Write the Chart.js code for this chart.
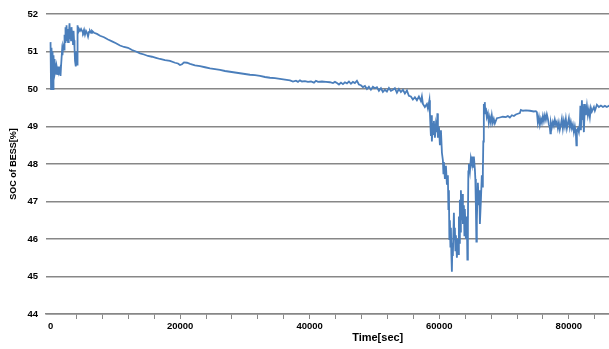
<!DOCTYPE html>
<html>
<head>
<meta charset="utf-8">
<script src="https://cdn.jsdelivr.net/npm/chart.js@4.4.0/dist/chart.umd.min.js"></script>
<style>
  html, body { margin: 0; padding: 0; background: #fff; }
  canvas { display: block; }
</style>
</head>
<body>
<canvas id="soc" width="609" height="349"></canvas>
<script>
// one day of BESS state of charge, sampled time [s] and SOC [%]
const timeSec = [
  0, 80, 150, 230, 310, 390, 460, 540, 620, 690,
  850, 930, 1000, 1160, 1230, 1310, 1470, 1540, 1620, 1770,
  1850, 1930, 2080, 2160, 2240, 2310, 2390, 2470, 2550, 2620,
  2700, 2780, 2850, 2930, 3010, 3090, 3160, 3240, 3320, 3390,
  3470, 3550, 3630, 3700, 3780, 3860, 3930, 4010, 4090, 4170,
  4240, 4400, 4550, 4710, 4860, 5010, 5170, 5320, 5480, 5630,
  5790, 5940, 6090, 6250, 6400, 6710, 7170, 7640, 8250, 8870,
  9490, 10100, 10720, 11340, 11960, 12580, 13190, 13810, 14430, 15040,
  15660, 16280, 16900, 17670, 18440, 19210, 19670, 19980, 20290, 20600,
  21070, 21530, 22300, 23070, 23840, 24620, 25390, 26160, 26930, 27700,
  28470, 29240, 30010, 30780, 31560, 32330, 33100, 33870, 34640, 35410,
  36180, 36960, 37420, 37880, 38190, 38500, 38810, 39270, 39730, 40200,
  40660, 40970, 41280, 41890, 42510, 43130, 43590, 43900, 44210, 44520,
  44830, 45130, 45440, 45750, 46060, 46370, 46680, 46980, 47290, 47600,
  47910, 48220, 48530, 48840, 49140, 49450, 49760, 50070, 50380, 50690,
  51000, 51300, 51610, 51920, 52230, 52540, 52850, 53150, 53460, 53770,
  54080, 54390, 54700, 55010, 55310, 55620, 55930, 56240, 56550, 56860,
  57170, 57320, 57480, 57780, 58090, 58250, 58400, 58480, 58560, 58710,
  58790, 58860, 59020, 59100, 59170, 59330, 59480, 59640, 59710, 59790,
  59950, 60100, 60260, 60410, 60560, 60640, 60720, 60870, 61030, 61180,
  61330, 61410, 61490, 61560, 61640, 61720, 61800, 61870, 61950, 62030,
  62100, 62260, 62330, 62410, 62490, 62570, 62720, 62870, 62950, 63030,
  63110, 63180, 63260, 63340, 63490, 63570, 63650, 63800, 63880, 63950,
  64110, 64260, 64340, 64420, 64490, 64570, 64730, 64880, 65040, 65110,
  65190, 65340, 65500, 65570, 65650, 65730, 65800, 65960, 66110, 66190,
  66270, 66420, 66570, 66650, 66730, 66800, 66880, 66960, 67030, 67110,
  67190, 67340, 67500, 67650, 67800, 67960, 68110, 68270, 68420, 68580,
  68890, 69350, 69810, 70280, 70590, 70900, 71210, 71520, 71820, 72130,
  72440, 72600, 72900, 73370, 73990, 74600, 74910, 75070, 75220, 75380,
  75530, 75690, 75840, 76000, 76150, 76300, 76460, 76610, 76770, 76920,
  77080, 77150, 77230, 77380, 77540, 77690, 77840, 78000, 78150, 78310,
  78460, 78610, 78770, 78920, 79080, 79230, 79390, 79540, 79700, 79850,
  80010, 80160, 80310, 80470, 80620, 80780, 80930, 81090, 81170, 81240,
  81400, 81550, 81710, 81780, 81860, 82020, 82090, 82170, 82320, 82480,
  82630, 82790, 82940, 83090, 83250, 83400, 83560, 83870, 84020, 84180,
  84330, 84640, 84950, 85260, 85570, 85870, 86180, 86340
];

const socValues = [
  51.25, 50.0, 51.1, 50.5, 51.0, 50.0, 50.9, 50.4, 50.8, 50.45,
  50.6, 50.38, 50.55, 50.4, 50.6, 50.45, 50.55, 50.35, 50.6, 51.0,
  50.9, 51.15, 51.05, 51.45, 51.25, 51.65, 51.3, 51.7, 51.35, 51.6,
  51.25, 51.55, 51.4, 51.75, 51.35, 51.6, 51.3, 51.65, 51.4, 51.55,
  51.2, 51.55, 51.3, 51.1, 50.75, 50.95, 50.6, 51.0, 50.65, 51.7,
  51.5, 51.6, 51.55, 51.6, 51.55, 51.5, 51.58, 51.45, 51.55, 51.5,
  51.4, 51.52, 51.55, 51.5, 51.55, 51.5, 51.47, 51.42, 51.38, 51.32,
  51.27, 51.22, 51.16, 51.12, 51.1, 51.04, 51.0, 50.95, 50.92, 50.88,
  50.86, 50.83, 50.8, 50.77, 50.75, 50.7, 50.68, 50.64, 50.66, 50.71,
  50.7, 50.67, 50.63, 50.61, 50.58, 50.55, 50.53, 50.51, 50.48, 50.46,
  50.44, 50.42, 50.4, 50.38, 50.37, 50.35, 50.32, 50.3, 50.29, 50.27,
  50.25, 50.23, 50.2, 50.22, 50.19, 50.23, 50.2, 50.21, 50.19, 50.2,
  50.17, 50.22, 50.19, 50.2, 50.19, 50.18, 50.16, 50.19, 50.16, 50.12,
  50.17, 50.13, 50.18, 50.15, 50.2, 50.14, 50.19, 50.16, 50.22, 50.12,
  50.1, 50.05, 50.08, 50.0, 50.06, 49.98, 50.06, 50.02, 50.05, 49.95,
  50.02, 49.92, 49.98, 49.93, 50.03, 49.95, 49.98, 50.02, 49.9, 50.0,
  49.92, 49.98, 49.88, 49.96, 49.82, 49.8, 49.72, 49.78, 49.7, 49.8,
  49.68, 49.8, 49.6, 49.52, 49.6, 49.48, 49.62, 49.7, 49.35, 48.75,
  49.3, 48.6, 49.1, 48.8, 49.15, 48.7, 49.05, 48.85, 49.35, 48.7,
  49.0, 48.5, 48.9, 48.3, 48.1, 47.75, 48.05, 47.6, 47.95, 47.45,
  47.7, 46.8, 47.3, 46.0, 46.5, 45.8, 46.3, 45.6, 45.13, 45.9,
  45.55, 46.7, 46.0, 46.3, 45.7, 46.1, 45.5, 46.0, 45.6, 46.6,
  45.9, 47.05, 46.2, 47.3, 46.5, 47.2, 46.4, 46.9, 46.1, 46.8,
  46.0, 46.6, 45.45, 46.4, 47.8, 48.0, 47.8, 48.15, 48.0, 48.2,
  47.9, 48.2, 47.85, 47.6, 46.9, 45.93, 46.5, 47.5, 46.9, 47.3,
  46.4, 47.0, 47.7, 47.4, 47.8, 48.6, 49.6, 49.45, 49.65, 49.35,
  49.5, 49.25, 49.35, 49.1, 49.25, 49.1, 49.3, 49.1, 49.2, 49.08,
  49.22, 49.24, 49.26, 49.25, 49.28, 49.24, 49.3, 49.28, 49.32, 49.34,
  49.36, 49.44, 49.42, 49.43, 49.42, 49.4, 49.41, 49.38, 49.1, 49.25,
  49.05, 49.2, 49.1, 49.28, 49.15, 49.3, 49.18, 49.32, 49.2, 49.05,
  48.95, 48.82, 49.1, 48.98, 49.12, 49.02, 49.18, 49.05, 49.12, 48.95,
  49.1, 48.92, 49.05, 49.2, 48.95, 49.15, 49.0, 49.2, 48.95, 49.08,
  49.22, 48.98, 49.12, 48.95, 49.05, 48.85, 49.0, 48.8, 48.5, 48.9,
  48.95, 48.85, 49.1, 49.55, 48.9, 49.7, 49.2, 49.6, 48.85, 49.6,
  49.3, 49.55, 49.3, 49.45, 49.25, 49.5, 49.4, 49.52, 49.42, 49.5,
  49.58, 49.52, 49.56, 49.52, 49.55, 49.52, 49.55, 49.53
];

// x axis: tick marks every 4000 s, numbers every 20000 s
const xTickValues = [0, 4000, 8000, 12000, 16000, 20000, 24000, 28000, 32000, 36000, 40000,
  44000, 48000, 52000, 56000, 60000, 64000, 68000, 72000, 76000, 80000, 84000];
const xLabelValues = [0, 20000, 40000, 60000, 80000];
const yTickValues = [44, 45, 46, 47, 48, 49, 50, 51, 52];

const GRID = '#878787';
const FONT = '"Liberation Sans", Arial, sans-serif';

const points = timeSec.map((t, i) => ({x: t, y: socValues[i]}));

// x axis title sits a little right of the plot centre
const xTitle = {
  id: 'xTitle',
  afterDraw(chart) {
    const {ctx, scales: {x}} = chart;
    ctx.save();
    ctx.font = 'bold 11px ' + FONT;
    ctx.fillStyle = '#000';
    ctx.textAlign = 'center';
    ctx.textBaseline = 'middle';
    ctx.fillText('Time[sec]', x.getPixelForValue(50500), 338);
    ctx.restore();
  }
};

new Chart(document.getElementById('soc'), {
  type: 'line',
  data: {
    datasets: [{
      data: points,
      borderColor: '#4a7ebb',
      borderWidth: 1.8,
      pointRadius: 0,
      tension: 0,
      fill: false
    }]
  },
  options: {
    responsive: false,
    animation: false,
    layout: {padding: {top: 14, right: 0, bottom: 0, left: 0}},
    plugins: {legend: {display: false}, tooltip: {enabled: false}},
    scales: {
      x: {
        type: 'linear',
        min: -700,
        max: 86200,
        afterBuildTicks: scale => {
          scale.ticks = xTickValues.map(v => ({value: v}));
        },
        afterFit: scale => { scale.height = 35; },
        grid: {
          drawOnChartArea: false,
          drawTicks: true,
          tickLength: 5,
          tickWidth: 1,
          tickColor: ctx => ctx.tick && ctx.tick.value === 0 ? 'rgba(0,0,0,0)' : GRID
        },
        border: {display: true, color: GRID, width: 1.5},
        ticks: {
          autoSkip: false,
          maxRotation: 0,
          padding: 2,
          color: '#000',
          font: {family: FONT, size: 9.5, weight: 'bold'},
          callback: v => xLabelValues.includes(v) ? String(v) : ''
        }
      },
      y: {
        min: 44,
        max: 52,
        afterBuildTicks: scale => {
          scale.ticks = yTickValues.map(v => ({value: v}));
        },
        afterFit: scale => { scale.width = 46; },
        grid: {color: GRID, lineWidth: 1.5, drawTicks: false},
        border: {display: false},
        ticks: {
          padding: 8,
          color: '#000',
          font: {family: FONT, size: 9.5, weight: 'bold'}
        },
        title: {
          display: true,
          text: 'SOC of BESS[%]',
          color: '#000',
          font: {family: FONT, size: 9, weight: 'bold'},
          padding: {top: 8, bottom: 0}
        }
      }
    }
  },
  plugins: [xTitle]
});
</script>
</body>
</html>
